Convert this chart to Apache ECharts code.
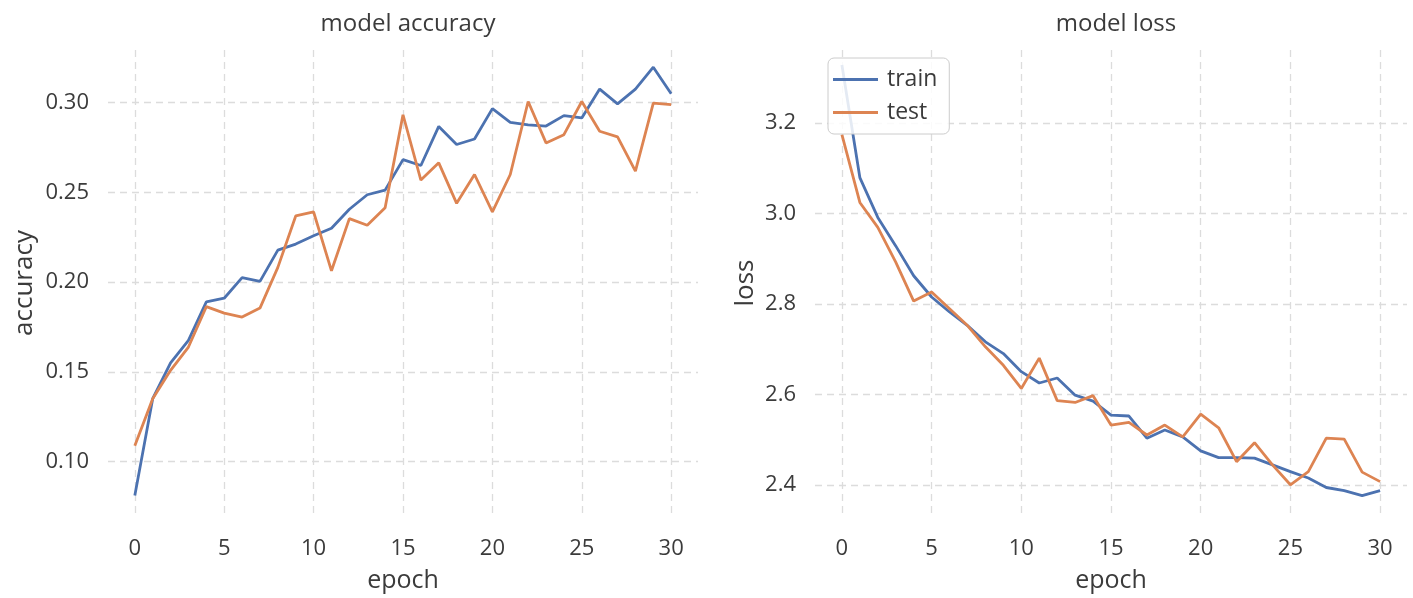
<!DOCTYPE html>
<html>
<head>
<meta charset="utf-8">
<script src="https://cdn.jsdelivr.net/npm/echarts@6/dist/echarts.min.js"></script>
<style>
  html, body { margin: 0; padding: 0; background: #ffffff; }
  #chart { width: 1413px; height: 598px; }
</style>
</head>
<body>
<div id="chart"></div>
<script>
var epochs = [];
for (var i = 0; i <= 30; i++) epochs.push(i);

var accTrain = [0.081, 0.135, 0.155, 0.1675, 0.189, 0.191, 0.2025, 0.2004, 0.2178, 0.2212, 0.2258,
                0.230, 0.2406, 0.2487, 0.2513, 0.2683, 0.265, 0.2868, 0.2767, 0.2798, 0.2967,
                0.289, 0.2876, 0.287, 0.2928, 0.2915, 0.3076, 0.2994, 0.3076, 0.3198, 0.305];
var accTest = [0.1088, 0.135, 0.1508, 0.1638, 0.1863, 0.1827, 0.1805, 0.1855, 0.2082, 0.2369, 0.2391,
               0.2063, 0.2354, 0.2317, 0.2415, 0.2933, 0.2569, 0.2665, 0.2439, 0.260, 0.2391,
               0.260, 0.3007, 0.2776, 0.2822, 0.3007, 0.2841, 0.281, 0.2619, 0.2998, 0.2989];
var lossTrain = [3.328, 3.079, 2.991, 2.928, 2.862, 2.815, 2.782, 2.752, 2.716, 2.690, 2.650,
                 2.625, 2.636, 2.598, 2.585, 2.554, 2.552, 2.503, 2.521, 2.506, 2.475,
                 2.460, 2.460, 2.459, 2.444, 2.429, 2.415, 2.394, 2.387, 2.376, 2.387];
var lossTest = [3.174, 3.024, 2.969, 2.892, 2.806, 2.826, 2.789, 2.752, 2.705, 2.664, 2.613,
                2.680, 2.586, 2.582, 2.597, 2.532, 2.538, 2.510, 2.532, 2.506, 2.556,
                2.526, 2.451, 2.493, 2.444, 2.400, 2.429, 2.503, 2.501, 2.428, 2.407];

var xTicks = [0, 5, 10, 15, 20, 25, 30];
var accTicks = [0.10, 0.15, 0.20, 0.25, 0.30];
var lossTicks = [2.4, 2.6, 2.8, 3.0, 3.2];

var FONT = '"Open Sans", "Noto Sans", sans-serif';
var TXT = '#3b3b3b';
var BLUE = '#4c72b0';
var ORANGE = '#dd8452';
var GRIDC = '#dcdcdc';

function pairs(xs, ys) { return xs.map(function (x, i) { return [x, ys[i]]; }); }

function xAxisCfg(idx) {
  return {
    type: 'value', gridIndex: idx, min: -1.5, max: 31.5,
    name: 'epoch', nameLocation: 'middle', nameGap: 52,
    nameTextStyle: { fontFamily: FONT, fontSize: 25, color: TXT },
    axisLine: { show: false },
    axisTick: { show: false, customValues: xTicks },
    axisLabel: { customValues: xTicks, margin: 22, fontFamily: FONT, fontSize: 22, color: TXT },
    splitLine: { show: true, lineStyle: { color: GRIDC, type: [7, 5], width: 1.3 } }
  };
}
function yAxisCfg(idx, name, min, max, ticks, gap, fmt) {
  return {
    type: 'value', gridIndex: idx, min: min, max: max,
    name: name, nameLocation: 'middle', nameGap: gap,
    nameTextStyle: { fontFamily: FONT, fontSize: 26, color: TXT },
    axisLine: { show: false },
    axisTick: { show: false, customValues: ticks },
    axisLabel: { customValues: ticks, margin: 19, fontFamily: FONT, fontSize: 22, color: TXT,
                 formatter: function (v) { return v.toFixed(fmt); } },
    splitLine: { show: true, lineStyle: { color: GRIDC, type: [7, 5], width: 1.3 } }
  };
}
function lineSeries(name, color, xi, yi, data) {
  return {
    type: 'line', name: name, xAxisIndex: xi, yAxisIndex: yi,
    data: pairs(epochs, data), showSymbol: false, symbol: 'none',
    lineStyle: { color: color, width: 2.8 }, itemStyle: { color: color },
    z: 3
  };
}

var chart = echarts.init(document.getElementById('chart'), null, { renderer: 'canvas' });
chart.setOption({
  animation: false,
  backgroundColor: '#ffffff',
  title: [
    { text: 'model accuracy', left: 403, top: 7, textAlign: 'center',
      textStyle: { fontFamily: FONT, fontSize: 24, fontWeight: 'normal', color: TXT } },
    { text: 'model loss', left: 1111, top: 7, textAlign: 'center',
      textStyle: { fontFamily: FONT, fontSize: 24, fontWeight: 'normal', color: TXT } }
  ],
  grid: [
    { left: 108, right: 715, top: 50, bottom: 80 },
    { left: 815, right: 6, top: 50, bottom: 80 }
  ],
  xAxis: [xAxisCfg(0), xAxisCfg(1)],
  yAxis: [
    yAxisCfg(0, 'accuracy', 0.0696, 0.3294, accTicks, 70, 2),
    yAxisCfg(1, 'loss', 2.331, 3.361, lossTicks, 56, 1)
  ],
  legend: {
    data: ['train', 'test'], orient: 'vertical', left: 828, top: 58,
    icon: 'rect', itemWidth: 45, itemHeight: 3, itemGap: 10,
    padding: [10, 12, 10, 5],
    backgroundColor: 'rgba(255,255,255,0.85)', borderColor: '#cccccc', borderWidth: 1, borderRadius: 6,
    textStyle: { fontFamily: FONT, fontSize: 23, color: TXT, padding: [0, 0, 0, 4] }
  },
  series: [
    lineSeries('train', BLUE, 0, 0, accTrain),
    lineSeries('test', ORANGE, 0, 0, accTest),
    lineSeries('train', BLUE, 1, 1, lossTrain),
    lineSeries('test', ORANGE, 1, 1, lossTest)
  ]
});
</script>
</body>
</html>
